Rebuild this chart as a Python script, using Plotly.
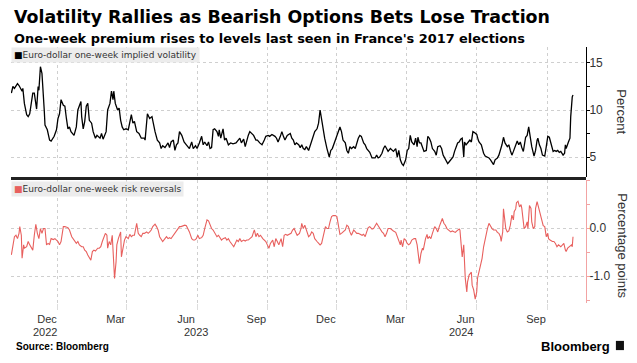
import pandas as pd
import plotly.graph_objects as go

START = "2022-10-01"

vol_days = [0,2,4,8,10,12,14,15,17,20,22,24,26,28,30,33,35,36,38,40,43,44,47,50,52,56,59,61,63,65,68,70,72,74,76,78,82,85,87,91,92,94,96,98,100,102,105,107,110,112,116,118,120,122,124,126,129,131,133,134,136,139,141,143,145,147,150,153,155,157,159,161,164,167,170,174,175,178,181,184,188,191,194,196,198,201,205,207,209,212,214,216,218,220,223,226,229,231,233,236,238,241,243,246,249,251,253,256,258,260,262,264,266,269,271,272,274,277,279,281,284,287,290,294,297,299,301,304,306,308,310,312,314,317,320,322,325,328,331,333,336,338,341,343,345,347,349,352,354,356,358,361,365,367,369,371,373,376,378,380,382,384,386,389,391,393,395,397,400,402,404,406,408,410,413,415,416,418,420,424,426,428,430,432,434,437,439,441,443,445,448,450,452,454,456,458,461,463,465,467,469,472,474,476,478,480,482,485,487,489,491,493,496,498,500,503,505,507,509,511,513,516,518,520,522,524,527,529,531,532,534,536,538,540,543,545,547,549,551,554,556,558,561,563,565,567,569,571,573,575,578,580,582,584,586,588,590,592,593,595,598,600,602,604,606,609,611,612,615,616,618,620,622,625,627,629,631,633,636,638,640,642,644,646,649,651,653,655,657,660,662,664,666,668,670,673,675,677,679,681,684,686,688,689,691,693,695,698,700,702,704,707,709,711,713,715,717,719,722,724,725,726,728,729,731,732,734,735]
vol_values = [11.8,12.5,12.3,12.8,12.6,12.3,12.0,12.3,10.7,9.5,9.3,9.6,10.7,11.8,11.8,10.1,12.5,12.1,14.6,13.9,10.0,8.4,7.9,6.8,6.7,7.2,7.9,9.1,9.6,11.1,10.5,10.4,9.1,8.0,8.2,7.7,7.3,8.2,10.0,10.9,9.3,8.0,8.8,10.4,10.7,8.9,8.6,7.7,7.0,7.3,7.0,7.5,6.9,7.3,7.7,10.0,10.7,12.0,11.1,12.0,10.7,10.0,10.2,8.9,8.2,7.9,8.0,7.9,8.6,9.5,8.6,8.8,7.7,7.5,7.0,7.0,6.8,9.6,9.1,9.3,7.7,6.8,6.5,5.9,6.2,6.0,6.5,6.0,6.6,6.8,5.7,6.3,6.5,7.7,7.3,6.6,6.3,6.1,5.9,6.6,5.9,6.2,5.9,6.5,7.2,6.3,6.6,6.2,6.6,5.9,6.0,7.9,8.0,7.7,7.2,7.9,7.0,8.0,6.8,7.0,6.3,6.5,6.4,6.5,6.8,7.0,6.5,6.9,6.1,6.8,7.3,7.7,7.5,7.3,6.8,6.8,6.5,6.3,6.8,7.2,7.3,7.2,7.4,7.3,7.2,7.0,6.6,7.2,7.7,7.2,6.8,7.3,7.5,7.0,6.8,6.3,6.5,6.3,6.0,6.3,5.9,5.8,6.1,5.7,6.2,6.6,7.2,7.7,8.0,8.6,10.0,8.9,7.7,7.0,5.9,5.4,5.0,5.7,5.9,6.8,7.3,7.9,8.2,7.7,6.8,6.5,5.7,5.4,6.1,5.9,6.1,5.9,6.6,7.0,7.3,7.2,6.5,6.3,5.9,5.7,5.5,4.9,4.9,4.9,5.2,4.9,5.0,5.4,5.9,6.2,5.9,5.6,5.9,5.7,5.6,5.9,5.0,5.7,4.7,4.3,4.1,4.7,5.7,5.9,7.3,6.6,6.3,7.0,6.1,7.1,6.5,6.5,5.9,5.6,5.7,7.2,7.0,6.6,5.9,5.6,5.2,6.1,6.2,5.9,5.2,4.9,4.5,4.3,4.5,4.7,5.0,5.6,6.1,6.5,6.6,6.9,7.0,5.0,6.6,6.3,6.6,6.8,6.6,7.7,7.6,7.4,6.8,6.6,6.3,5.9,5.4,5.1,5.0,4.9,4.7,4.5,4.2,4.7,4.9,5.2,5.7,6.3,7.1,6.5,6.1,6.3,5.7,5.2,5.6,6.3,6.7,6.3,6.6,6.0,5.6,7.1,7.3,8.2,7.2,6.1,5.1,5.7,6.8,7.0,6.3,5.9,5.2,5.1,6.1,7.2,7.1,6.3,5.6,5.7,5.6,5.7,5.5,5.6,5.2,5.4,6.3,5.9,6.5,6.6,7.0,9.3,11.4,11.6]

rr_days = [0,2,4,6,8,10,11,13,14,16,17,20,22,24,26,28,30,32,34,36,38,40,42,44,46,48,50,52,55,57,59,61,63,65,68,70,74,76,79,81,83,85,87,89,92,94,96,98,100,102,104,106,108,110,113,115,117,119,121,123,125,126,128,130,132,133,135,137,138,140,143,144,146,148,150,153,155,157,159,161,164,166,168,170,172,174,177,179,181,183,185,188,190,192,194,196,198,201,203,205,207,209,212,214,216,218,220,222,225,227,229,231,233,236,238,240,242,244,246,249,251,253,256,258,260,262,264,267,269,271,273,275,277,280,282,284,286,288,291,293,295,297,299,301,304,306,308,310,312,315,317,318,320,322,324,326,329,331,333,335,337,339,342,344,346,348,350,353,355,357,359,361,363,366,368,370,372,374,377,379,380,382,384,387,389,391,393,395,397,400,402,404,406,408,411,413,415,417,419,421,424,426,428,430,432,435,437,439,441,443,445,448,450,452,454,456,459,461,463,465,467,469,472,474,476,478,480,483,485,487,489,491,493,496,498,500,503,505,507,509,510,512,514,516,518,520,522,524,527,529,531,532,534,536,538,539,541,542,544,545,547,549,551,554,556,558,560,562,564,566,568,570,572,575,577,579,581,583,586,587,589,590,592,593,594,596,597,599,601,602,603,605,607,609,610,612,614,616,618,620,621,623,625,627,629,631,634,636,638,640,641,643,644,646,647,649,651,653,655,657,658,660,661,663,665,667,668,670,671,673,675,676,677,678,680,681,683,685,686,688,689,691,693,695,696,698,699,700,702,703,705,708,710,712,714,716,719,721,723,725,726,728,730,733,734,735]
rr_values = [-0.56,-0.35,-0.18,-0.15,-0.22,-0.11,0.03,-0.15,-0.63,-0.35,-0.42,-0.39,-0.28,-0.35,-0.42,-0.46,-0.15,0.08,-0.11,-0.22,-0.01,-0.11,-0.01,-0.01,-0.35,-0.32,-0.34,-0.22,-0.24,-0.22,-0.25,-0.28,-0.35,-0.28,0.03,0.03,0.01,-0.04,-0.18,-0.22,-0.28,-0.32,-0.28,-0.35,-0.39,-0.39,-0.46,-0.49,-0.56,-0.63,-0.67,-0.49,-0.46,-0.48,-0.42,-0.42,-0.39,-0.28,-0.18,-0.11,-0.15,-0.42,-0.28,-0.35,-0.15,-0.42,-1.05,-0.70,-0.35,-0.22,-0.08,-0.60,-0.42,-0.25,-0.18,-0.22,-0.13,-0.18,-0.15,-0.15,0.10,-0.11,-0.15,-0.18,-0.11,-0.11,-0.08,-0.11,-0.08,-0.04,0.03,0.08,0.03,-0.04,-0.18,-0.22,-0.28,-0.22,-0.18,-0.22,-0.20,-0.22,-0.15,-0.13,-0.08,-0.01,0.03,0.03,0.05,0.06,0.05,-0.01,-0.08,-0.22,-0.25,-0.25,-0.22,-0.15,-0.22,-0.20,-0.15,-0.01,0.17,0.15,0.06,-0.01,-0.04,-0.11,-0.18,-0.15,-0.20,-0.25,-0.22,-0.20,-0.25,-0.22,-0.28,-0.32,-0.39,-0.32,-0.25,-0.28,-0.22,-0.28,-0.25,-0.27,-0.25,-0.25,-0.22,-0.18,-0.08,-0.04,-0.18,-0.11,-0.18,-0.15,-0.22,-0.25,-0.28,-0.35,-0.42,-0.32,-0.25,-0.39,-0.22,-0.28,-0.35,-0.22,-0.39,-0.15,-0.13,-0.15,-0.13,-0.11,-0.04,-0.01,-0.08,-0.15,-0.11,-0.01,0.10,-0.01,0.06,-0.08,-0.18,-0.15,-0.08,-0.11,-0.22,-0.28,-0.32,-0.35,-0.32,-0.15,0.03,-0.01,-0.01,0.13,0.24,0.26,0.26,0.24,0.06,-0.13,-0.11,-0.06,-0.04,0.06,0.03,-0.08,-0.15,-0.04,-0.08,-0.11,-0.11,-0.13,-0.15,-0.13,-0.18,-0.08,0.01,0.03,-0.02,-0.01,0.06,0.10,0.05,-0.04,-0.08,-0.11,-0.18,-0.11,-0.01,-0.01,-0.04,-0.06,-0.09,-0.18,-0.25,-0.35,-0.25,-0.39,-0.22,-0.25,-0.32,-0.35,-0.32,-0.25,-0.22,-0.22,-0.35,-0.53,-0.74,-0.53,-0.42,-0.46,-0.28,-0.22,-0.13,-0.22,-0.18,-0.22,-0.11,0.03,-0.01,-0.08,0.03,0.13,0.20,0.10,0.06,-0.01,-0.04,-0.08,-0.06,-0.08,-0.09,-0.06,-0.02,-0.04,-0.35,-0.60,-0.35,-0.70,-1.05,-1.33,-1.12,-0.98,-0.94,-0.92,-1.19,-1.29,-1.48,-1.33,-1.05,-0.91,-0.74,-0.63,-0.39,-0.22,-0.11,-0.01,0.10,0.03,-0.01,-0.04,-0.04,-0.09,-0.11,-0.18,-0.28,-0.08,0.40,0.13,-0.01,-0.08,-0.06,0.06,0.27,0.17,0.34,0.40,0.53,0.56,0.44,0.49,0.41,0.13,-0.01,0.03,0.13,-0.01,0.27,0.47,0.41,0.13,-0.01,0.03,0.41,0.55,0.49,0.37,0.26,0.13,0.05,0.03,-0.04,-0.18,-0.11,-0.22,-0.25,-0.28,-0.28,-0.32,-0.39,-0.35,-0.39,-0.35,-0.32,-0.46,-0.49,-0.42,-0.39,-0.35,-0.39,-0.18]

tick_dates = ["2022-12-01", "2023-03-01", "2023-06-01", "2023-09-01",
              "2023-12-01", "2024-03-01", "2024-06-01", "2024-09-01"]
tick_labels = ["Dec", "Mar", "Jun", "Sep", "Dec", "Mar", "Jun", "Sep"]
year_labels = ["2022", "2023", "2024"]
year_label_dates = ["2022-11-14", "2023-05-30", "2024-05-12"]

TITLE = "Volatility Rallies as Bearish Options Bets Lose Traction"
SUBTITLE = "One-week premium rises to levels last seen in France's 2017 elections"
VOL_NAME = "Euro-dollar one-week implied volatility"
RR_NAME = "Euro-dollar one-week risk reversals"

base = pd.Timestamp(START)
vol_x = base + pd.to_timedelta(vol_days, unit="D")
rr_x = base + pd.to_timedelta(rr_days, unit="D")

RED = "#e8605e"
GRID = "#cfcfcf"
TXT = "#333333"
FONT = "Liberation Sans"
HEAD = "DejaVu Sans"

fig = go.Figure()
fig.add_trace(go.Scatter(x=vol_x, y=vol_values, mode="lines", xaxis="x2", yaxis="y",
                         line=dict(color="#000000", width=1.3), name=VOL_NAME,
                         showlegend=False))
fig.add_trace(go.Scatter(x=rr_x, y=rr_values, mode="lines", xaxis="x", yaxis="y2",
                         line=dict(color=RED, width=1.1), name=RR_NAME,
                         showlegend=False))

xr = ["2022-09-30 12:00", "2024-10-22"]
common_x = dict(range=xr, type="date", showgrid=True, gridcolor=GRID, griddash="dot",
                gridwidth=1, zeroline=False, showline=False,
                tickvals=tick_dates)

fig.update_layout(
    width=637, height=363,
    margin=dict(l=11, r=51, t=47, b=60),
    paper_bgcolor="white", plot_bgcolor="white",
    font=dict(family=FONT, color=TXT, size=11),
    xaxis=dict(**common_x, anchor="y2", ticktext=tick_labels, ticks="outside",
               ticklen=6, tickcolor="#dddddd", tickwidth=1,
               ticklabelshift=-11, tickfont=dict(size=11, color=TXT)),
    xaxis2=dict(**common_x, anchor="y", matches="x", showticklabels=False, ticks=""),
    yaxis=dict(domain=[0.492, 1.0], anchor="x2", side="right", range=[2.87, 16.7],
               tick0=0, dtick=5, showgrid=True, gridcolor=GRID, griddash="dot",
               zeroline=False, showline=True, linecolor="#000000", linewidth=1,
               ticks="outside", ticklen=3, tickcolor="#000000", ticklabelstandoff=-3,
               minor=dict(dtick=2.5, ticks="outside", ticklen=3, tickcolor="#000000",
                          showgrid=False),
               tickfont=dict(size=12, color=TXT)),
    yaxis2=dict(domain=[0.0, 0.480], anchor="x", side="right", range=[-1.5625, 1.0],
                tickvals=[-1.0, 0.0], ticktext=["-1.0", "0.0"],
                showgrid=True, gridcolor=GRID, griddash="dot",
                zeroline=False, showline=True, linecolor="#f2a3a3", linewidth=1,
                ticks="outside", ticklen=3, tickcolor="#f2a3a3", ticklabelstandoff=-3,
                minor=dict(dtick=0.5, ticks="outside", ticklen=3, tickcolor="#f2a3a3",
                           showgrid=False),
                tickfont=dict(size=12, color=TXT)),
)

# separator between panels
fig.add_shape(type="line", xref="paper", yref="paper", x0=0, x1=1, y0=0.486, y1=0.486,
              line=dict(color="#222222", width=3))

annotations = [
    dict(text="<b>" + TITLE + "</b>", x=0.0017, y=1.117, xanchor="left", yanchor="middle",
         font=dict(size=17.4, color="#000000", family=HEAD)),
    dict(text="<b>" + SUBTITLE + "</b>", x=0.0017, y=1.035, xanchor="left", yanchor="middle",
         font=dict(size=12.9, color="#000000", family=HEAD)),
    dict(text='<span style="color:#000000">■</span>' + VOL_NAME, x=0.0, y=1.0,
         xanchor="left", yanchor="top", bgcolor="#ececec", borderpad=2,
         font=dict(size=9, color=TXT, family=HEAD)),
    dict(text='<span style="color:' + RED + '">■</span>' + RR_NAME, x=0.0, y=0.476,
         xanchor="left", yanchor="top", bgcolor="#ececec", borderpad=2,
         font=dict(size=9, color=TXT, family=HEAD)),
    dict(text="Percent", x=1.062, y=0.746, textangle=90, xanchor="center", yanchor="middle",
         font=dict(size=13, color=TXT, family=FONT)),
    dict(text="Percentage points", x=1.062, y=0.223, textangle=90, xanchor="center",
         yanchor="middle", font=dict(size=13, color=TXT, family=FONT)),
    dict(text="<b>Source: Bloomberg</b>", x=0.005, y=-0.168, xanchor="left", yanchor="middle",
         font=dict(size=10, color="#000000", family=FONT)),
    dict(text="<b>Bloomberg</b>", x=1.045, y=-0.168, xanchor="right", yanchor="middle",
         font=dict(size=13, color="#000000", family=FONT)),
]
for yl, yd in zip(year_labels, year_label_dates):
    annotations.append(dict(text=yl, x=yd, xref="x", y=-0.113, yref="paper",
                            xanchor="center", yanchor="middle", showarrow=False,
                            font=dict(size=11, color=TXT, family=FONT)))
for a in annotations:
    a.setdefault("xref", "paper")
    a.setdefault("yref", "paper")
    a.setdefault("showarrow", False)
fig.update_layout(annotations=annotations)

# small logo mark next to "Bloomberg"
fig.add_shape(type="rect", xref="paper", yref="paper", x0=1.052, x1=1.066,
              y0=-0.184, y1=-0.148, fillcolor="#111111", line=dict(width=0))

fig.write_html("out.html", config={"displayModeBar": False},
               post_script="document.body.style.margin='0';document.body.style.overflow='hidden';")
